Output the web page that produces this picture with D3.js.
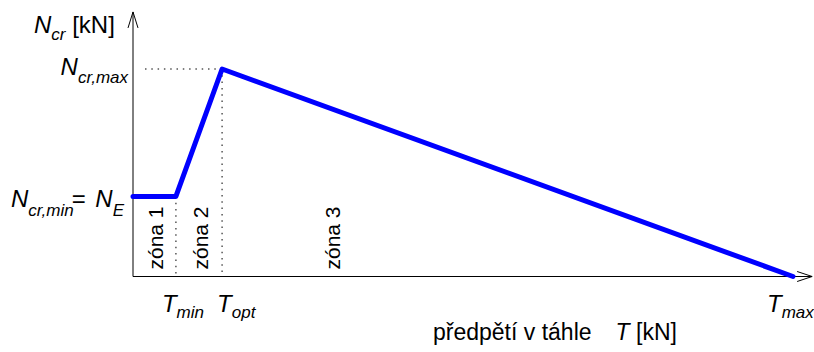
<!DOCTYPE html>
<html lang="cs">
<head>
<meta charset="UTF-8" />
<title>Ncr - T</title>
<script src="https://cdn.jsdelivr.net/npm/d3@7"></script>
<style>
  body { margin: 0; background: #fff; }
  text { font-family: "Liberation Sans", Arial, sans-serif; fill: #000; }
</style>
</head>
<body>
<svg id="vis" width="814" height="352"></svg>
<script>
// predpeti T (relativni jednotky) a kriticka sila Ncr
var tBody = [0, 6.5, 13.5, 100];
var nBody = [38.6, 38.6, 100, 0];
var zony = ["zóna 1", "zóna 2", "zóna 3"];
var zonyX = [3.25, 10, 30];
var tPopisky = [["T", "min", 6.5], ["T", "opt", 13.5], ["T", "max", 100]];

var svg = d3.select("#vis");

var x = d3.scaleLinear().domain([0, 100]).range([133, 793]);
var y = d3.scaleLinear().domain([0, 100]).range([276.5, 69]);

var xKonec = 102.9, yKonec = 127.5;

// osy
svg.append("line")
  .attr("x1", x(0)).attr("y1", y(0))
  .attr("x2", x(xKonec)).attr("y2", y(0))
  .attr("stroke", "#000").attr("stroke-width", 1);
svg.append("line")
  .attr("x1", x(0)).attr("y1", y(0))
  .attr("x2", x(0)).attr("y2", y(yKonec))
  .attr("stroke", "#000").attr("stroke-width", 1);

// sipky
svg.append("path")
  .attr("d", "M" + (x(xKonec) - 15) + "," + (y(0) - 5) + "L" + x(xKonec) + "," + y(0) +
    "L" + (x(xKonec) - 15) + "," + (y(0) + 5))
  .attr("fill", "none").attr("stroke", "#000");
svg.append("path")
  .attr("d", "M" + (x(0) - 5) + "," + (y(yKonec) + 16) + "L" + x(0) + "," + y(yKonec) +
    "L" + (x(0) + 5) + "," + (y(yKonec) + 16))
  .attr("fill", "none").attr("stroke", "#000");

// teckovane cary
function tecky(x1, y1, x2, y2) {
  svg.append("line")
    .attr("x1", x1).attr("y1", y1).attr("x2", x2).attr("y2", y2)
    .attr("stroke", "#555").attr("stroke-width", 1.5)
    .attr("stroke-dasharray", "1.5,4.8");
}
tecky(x(tBody[2]), y(nBody[2]), x(0) + 9, y(nBody[2]));
tecky(x(tBody[1]), y(nBody[1]), x(tBody[1]), y(0));
tecky(x(tBody[2]), y(nBody[2]), x(tBody[2]), y(0));

// krivka
var cara = d3.line()
  .x(function (d, i) { return x(tBody[i]); })
  .y(function (d) { return y(d); });
svg.append("path")
  .attr("d", cara(nBody))
  .attr("fill", "none")
  .attr("stroke", "#0000ff")
  .attr("stroke-width", 5)
  .attr("stroke-linejoin", "round")
  .attr("stroke-linecap", "round");

// zony
zony.forEach(function (z, i) {
  svg.append("text")
    .attr("transform", "translate(" + (x(zonyX[i]) + 9) + "," + (y(0) - 7) + ") rotate(-90)")
    .attr("font-size", 21)
    .text(z);
});

// popisky T
var tPosun = [-14, -5, -26];
tPopisky.forEach(function (p, i) {
  var t = svg.append("text")
    .attr("x", x(p[2]) + tPosun[i])
    .attr("y", 312)
    .attr("font-size", 24)
    .attr("font-style", "italic");
  t.append("tspan").text(p[0]);
  t.append("tspan").attr("font-size", 17).attr("dy", 6).text(p[1]);
});

// popisky N
var n1 = svg.append("text").attr("x", 34).attr("y", 33).attr("font-size", 24);
n1.append("tspan").attr("font-style", "italic").text("N");
n1.append("tspan").attr("font-style", "italic").attr("font-size", 17).attr("dy", 7).text("cr");
n1.append("tspan").attr("dy", -7).text(" [kN]");

var n2 = svg.append("text").attr("x", 128).attr("y", y(100) + 6)
  .attr("font-size", 24).attr("font-style", "italic").attr("text-anchor", "end");
n2.append("tspan").text("N");
n2.append("tspan").attr("font-size", 17).attr("dy", 8).text("cr,max");

var n3 = svg.append("text").attr("x", 11).attr("y", y(nBody[0]) + 11)
  .attr("font-size", 24).attr("font-style", "italic");
n3.append("tspan").text("N");
n3.append("tspan").attr("font-size", 17).attr("dy", 9).text("cr,min");
n3.append("tspan").attr("dy", -9).attr("dx", -2).attr("font-style", "normal").text("=");
n3.append("tspan").attr("dx", 3).text(" N");
n3.append("tspan").attr("font-size", 17).attr("dy", 9).text("E");

// popisek osy x
var xl = svg.append("text").attr("x", 433).attr("y", 340).attr("font-size", 23);
xl.append("tspan").text("předpětí v táhle");
xl.append("tspan").attr("dx", 24).attr("font-style", "italic").text("T");
xl.append("tspan").text(" [kN]");
</script>
</body>
</html>
